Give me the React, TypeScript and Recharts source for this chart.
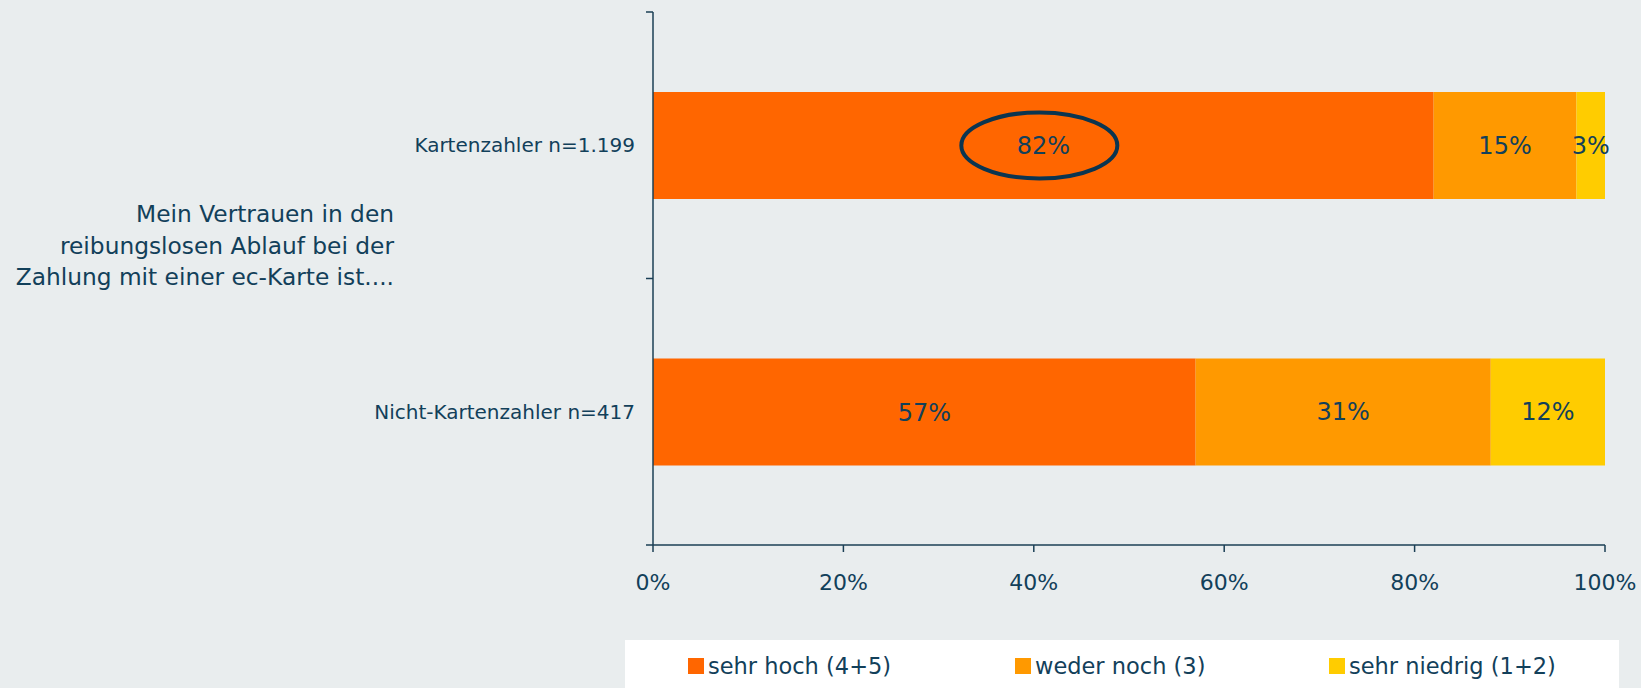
import React from 'react';
import { BarChart, Bar, XAxis, YAxis, Legend, LabelList } from 'recharts';

const categories = ['Kartenzahler n=1.199', 'Nicht-Kartenzahler n=417'];
const sehrHoch = [82, 57];
const wederNoch = [15, 31];
const sehrNiedrig = [3, 12];
const xTicks = [0, 20, 40, 60, 80, 100];
const seriesNames = ['sehr hoch (4+5)', 'weder noch (3)', 'sehr niedrig (1+2)'];
const titleLines = ['Mein Vertrauen in den', 'reibungslosen Ablauf bei der', 'Zahlung mit einer ec-Karte ist....'];

const COLORS = ['#FF6600', '#FF9900', '#FFCC00'];
const TEXT = '#12405A';
const AXIS = '#1B3F55';
const BG = '#E9EDEE';
const FONT = '"DejaVu Sans", Verdana, sans-serif';

const data = categories.map((name, i) => ({
  name,
  hoch: sehrHoch[i],
  weder: wederNoch[i],
  niedrig: sehrNiedrig[i],
}));

// category labels plus the small boundary ticks between the groups
const CategoryTick = (props: any) => {
  const { x, y, payload, index, visibleTicksCount } = props;
  const half = payload.offset ?? 133;
  const axisX = x + 18;
  return (
    <g>
      <line x1={axisX - 7} x2={axisX} y1={y - half} y2={y - half} stroke={AXIS} strokeWidth={1.5} />
      {index === visibleTicksCount - 1 && (
        <line x1={axisX - 7} x2={axisX} y1={y + half} y2={y + half} stroke={AXIS} strokeWidth={1.5} />
      )}
      <text x={x} y={y} dy="0.35em" textAnchor="end" fill={TEXT} fontSize={20} fontFamily={FONT}>
        {payload.value}
      </text>
    </g>
  );
};

// value label; the first bar's main value gets the highlight ellipse
const HighlightLabel = (props: any) => {
  const { x, y, width, height, value, index } = props;
  const cx = x + width / 2;
  const cy = y + height / 2;
  return (
    <g>
      {index === 0 && (
        <ellipse cx={cx - 4} cy={cy} rx={78} ry={33} fill="none" stroke="#0B3550" strokeWidth={4} />
      )}
      <text x={cx} y={cy} dy="0.36em" textAnchor="middle" fill={TEXT} fontSize={24} fontFamily={FONT}>
        {`${value}%`}
      </text>
    </g>
  );
};

const legendOffsets = [63, 390, 704];

const LegendBox = () => (
  <div style={{ position: 'relative', width: '100%', height: 48 }}>
    {seriesNames.map((n, i) => (
      <div
        key={n}
        style={{
          position: 'absolute',
          left: legendOffsets[i],
          top: 0,
          height: 52,
          display: 'flex',
          alignItems: 'center',
          fontFamily: FONT,
          fontSize: 22.5,
          color: TEXT,
          whiteSpace: 'nowrap',
        }}
      >
        <span style={{ display: 'inline-block', width: 16, height: 16, background: COLORS[i], marginRight: 4 }} />
        {n}
      </div>
    ))}
  </div>
);

const valueLabel = {
  position: 'center' as const,
  formatter: (v: any) => `${v}%`,
  fill: TEXT,
  fontSize: 24,
  fontFamily: FONT,
};

export default function App() {
  return (
    <div style={{ position: 'absolute', left: 0, top: 0, width: 1641, height: 688, background: BG, overflow: 'hidden' }}>
      <div
        style={{
          position: 'absolute',
          left: 0,
          top: 198,
          width: 394,
          textAlign: 'right',
          fontFamily: FONT,
          fontSize: 23.3,
          lineHeight: '31.5px',
          color: TEXT,
        }}
      >
        {titleLines.map((l) => (
          <div key={l} style={{ whiteSpace: 'nowrap' }}>{l}</div>
        ))}
      </div>
      <BarChart
        width={1641}
        height={688}
        data={data}
        layout="vertical"
        margin={{ top: 12, right: 36, left: 0, bottom: 0 }}
        barCategoryGap="30%"
      >
        <XAxis
          type="number"
          domain={[0, 100]}
          ticks={xTicks}
          tickFormatter={(v) => `${v}%`}
          height={95}
          tickSize={7}
          tickMargin={22}
          stroke={AXIS}
          strokeWidth={1.5}
          tick={{ fill: TEXT, fontSize: 22, fontFamily: FONT }}
        />
        <YAxis
          type="category"
          dataKey="name"
          width={653}
          tickSize={7}
          tickMargin={11}
          tickLine={false}
          stroke={AXIS}
          strokeWidth={1.5}
          tick={<CategoryTick />}
        />
        <Legend
          verticalAlign="bottom"
          align="left"
          height={48}
          wrapperStyle={{ left: 625, width: 994, height: 48, background: '#FFFFFF' }}
          content={<LegendBox />}
        />
        <Bar dataKey="hoch" stackId="a" fill={COLORS[0]} isAnimationActive={false}>
          <LabelList dataKey="hoch" content={<HighlightLabel />} />
        </Bar>
        <Bar dataKey="weder" stackId="a" fill={COLORS[1]} isAnimationActive={false}>
          <LabelList dataKey="weder" {...valueLabel} />
        </Bar>
        <Bar dataKey="niedrig" stackId="a" fill={COLORS[2]} isAnimationActive={false}>
          <LabelList dataKey="niedrig" {...valueLabel} />
        </Bar>
      </BarChart>
    </div>
  );
}
